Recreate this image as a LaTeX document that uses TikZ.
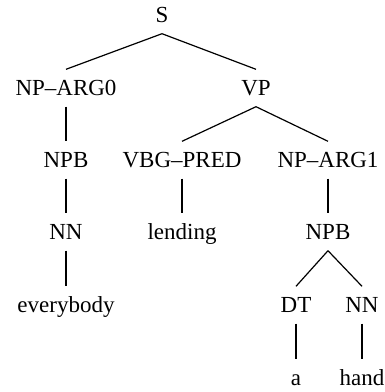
\documentclass[tikz,border=0pt]{standalone}
\usepackage{fontspec}
\setmainfont{Liberation Serif}
\begin{document}
\begin{tikzpicture}[x=1pt,y=-1pt,
  tn/.style={inner sep=0pt, text height=15pt, text depth=0pt, minimum height=37pt,
             font=\fontsize{23}{26}\selectfont},
  edge/.style={line width=1.2pt}]
\useasboundingbox (0,0) rectangle (385,392);
% level 0
\node[tn] (S) at (162,15) {S};
% level 1
\node[tn] (NPA0) at (66,88) {NP–ARG0};
\node[tn] (VP) at (256,88) {VP};
% level 2
\node[tn] (NPB1) at (66,160) {NPB};
\node[tn] (VBG) at (182,160) {VBG–PRED};
\node[tn] (NPA1) at (328,160) {NP–ARG1};
% level 3
\node[tn] (NN1) at (66,232) {NN};
\node[tn] (lend) at (182,232) {lending};
\node[tn] (NPB2) at (328,232) {NPB};
% level 4
\node[tn] (every) at (66,305) {everybody};
\node[tn] (DT) at (296,305) {DT};
\node[tn] (NN2) at (362,305) {NN};
% level 5
\node[tn] (a) at (296,378) {a};
\node[tn] (hand) at (362,378) {hand};
% edges
\draw[edge] (S.south) -- (NPA0.north);
\draw[edge] (S.south) -- (VP.north);
\draw[edge] (NPA0.south) -- (NPB1.north);
\draw[edge] (VP.south) -- (VBG.north);
\draw[edge] (VP.south) -- (NPA1.north);
\draw[edge] (NPB1.south) -- (NN1.north);
\draw[edge] (VBG.south) -- (lend.north);
\draw[edge] (NPA1.south) -- (NPB2.north);
\draw[edge] (NN1.south) -- (every.north);
\draw[edge] (NPB2.south) -- (DT.north);
\draw[edge] (NPB2.south) -- (NN2.north);
\draw[edge] (DT.south) -- (a.north);
\draw[edge] (NN2.south) -- (hand.north);
\end{tikzpicture}
\end{document}
